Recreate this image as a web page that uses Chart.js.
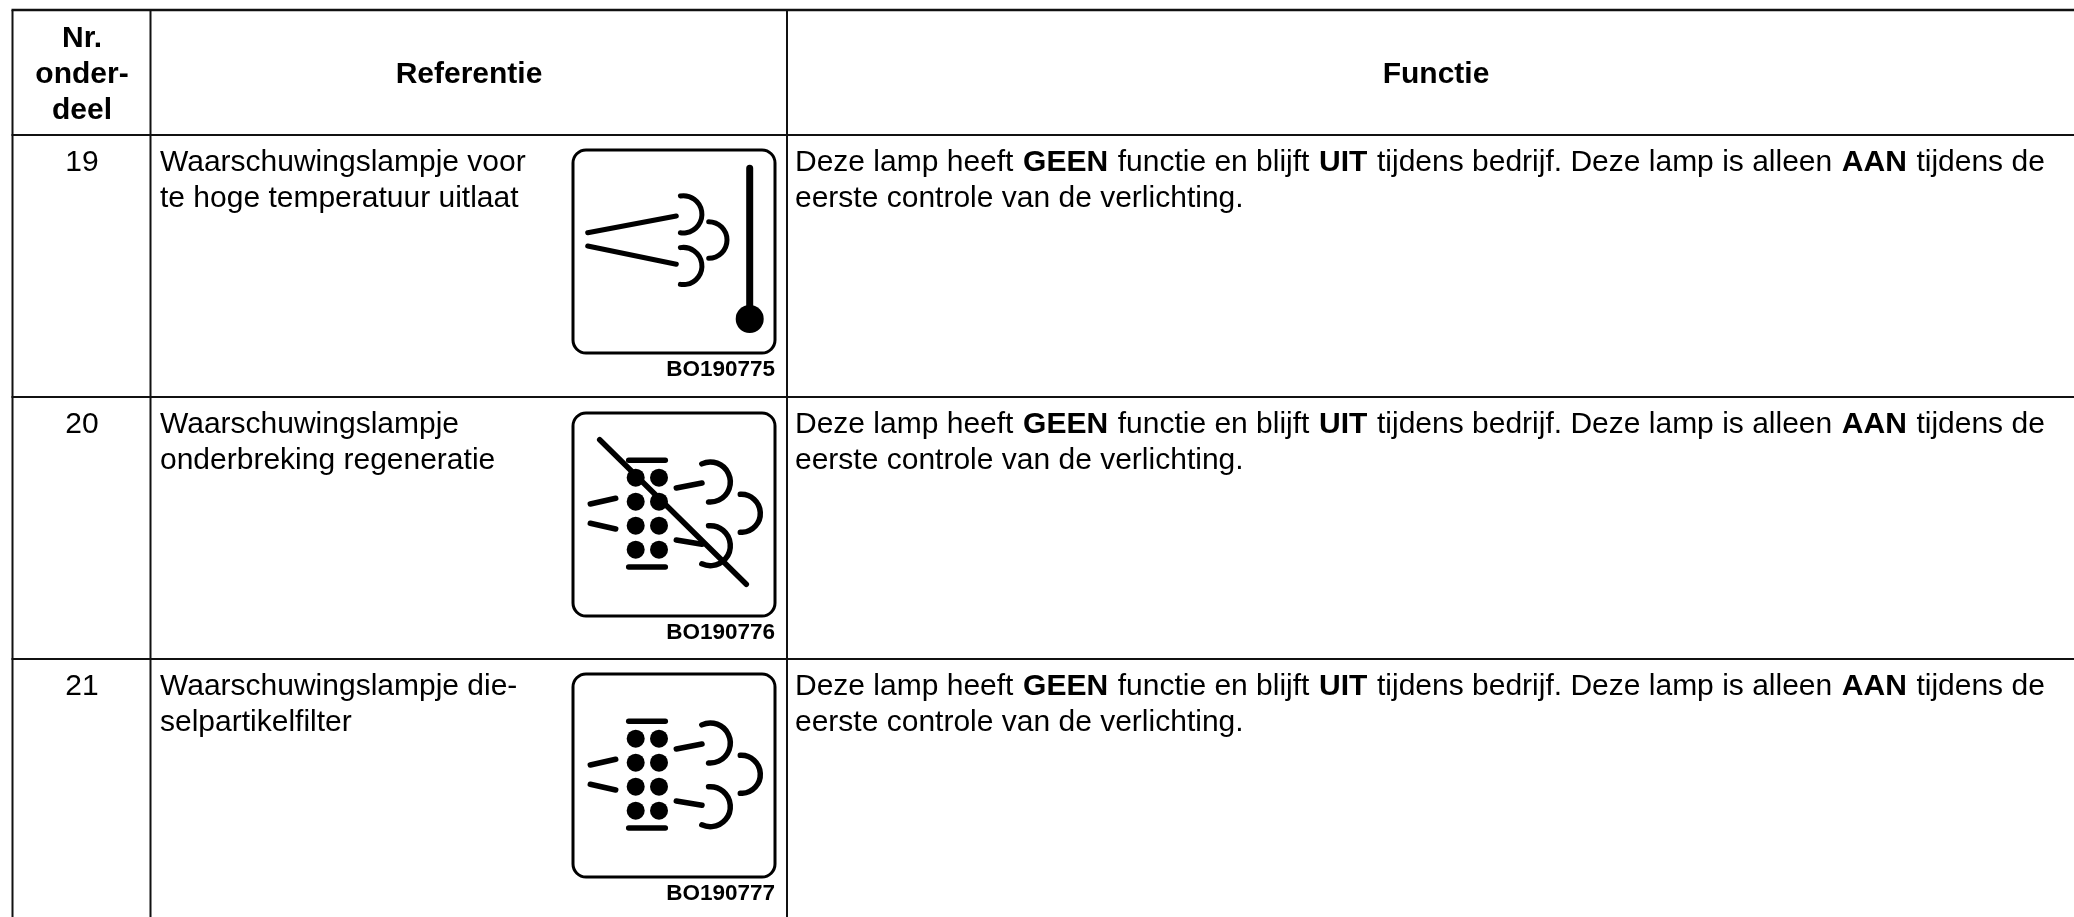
<!DOCTYPE html>
<html lang="nl">
<head>
    <meta charset="UTF-8">
    <title>Waarschuwingslampjes</title>
    <script src="https://cdn.jsdelivr.net/npm/chart.js"></script>
    <style>
        html, body { margin: 0; padding: 0; background: #fff; }
        canvas { display: block; }
    </style>
</head>
<body>
<canvas id="tableChart" width="2074" height="917"></canvas>

<script>
    // Table content
    const headerPart = ['Nr.', 'onder-', 'deel'];
    const headerReference = 'Referentie';
    const headerFunction = 'Functie';
    const partNumbers = ['19', '20', '21'];
    const references = [
        ['Waarschuwingslampje voor', 'te hoge temperatuur uitlaat'],
        ['Waarschuwingslampje', 'onderbreking regeneratie'],
        ['Waarschuwingslampje die-', 'selpartikelfilter']
    ];
    const imageCodes = ['BO190775', 'BO190776', 'BO190777'];
    const iconKinds = ['temperature', 'filterOff', 'filter'];
    // [text, bold]
    const functionLine1 = [
        ['Deze lamp heeft', false], ['GEEN', true], ['functie en blijft', false], ['UIT', true],
        ['tijdens bedrijf. Deze lamp is alleen', false], ['AAN', true], ['tijdens de', false]
    ];
    const functionLine2 = 'eerste controle van de verlichting.';

    // Table rules, in page units
    const columnEdges = [12.5, 150.5, 787];
    const rowEdges = [10, 135, 397, 659];
    const pageWidth = 2074;
    const pageHeight = 917;
    const iconLeft = 573;
    const iconTops = [150, 413, 674];
    const iconSize = [202, 203];

    // Icon strokes relative to the top left of the icon: x1, y1, x2, y2, width
    const exhaustLines = [
        [14.7, 82.7, 103.3, 66, 5],
        [14.7, 96, 103.3, 114.3, 5],
        [176.7, 18.3, 176.7, 166.7, 7]
    ];
    const filterLines = [
        [55.7, 47.3, 92.3, 47.3, 5.5],
        [55.7, 154, 92.3, 154, 5.5],
        [17.3, 91, 42.7, 85.3, 5.5],
        [17.3, 110.3, 42.7, 116, 5.5],
        [103.3, 75, 129, 70, 5.5],
        [103.3, 127, 129, 131.3, 5.5]
    ];
    const crossLines = [[26.7, 26.7, 173.3, 171.3, 5.5]];
    // cx, cy, r, start degrees, end degrees
    const exhaustArcs = [
        [110.3, 64.3, 18.6, -99, 99],
        [110.3, 116, 18.6, -99, 99],
        [135.7, 90, 18.3, -90, 90]
    ];
    const filterArcs = [
        [137.3, 69, 20, -115, 95],
        [168.3, 100.3, 19, -93, 93],
        [137.3, 132.7, 20, -95, 115]
    ];
    // cx, cy, r
    const exhaustDots = [[176.7, 169, 14]];
    const filterDotsX = [62.7, 86];
    const filterDotsY = [64.7, 88.7, 112.7, 136.7];
    const filterDotRadius = 9;

    const iconShapes = {
        temperature: { lines: exhaustLines, arcs: exhaustArcs, dots: exhaustDots, arcWidth: 5 },
        filter: {
            lines: filterLines,
            arcs: filterArcs,
            dots: filterDotsX.flatMap(x => filterDotsY.map(y => [x, y, filterDotRadius])),
            arcWidth: 5.5
        }
    };
    iconShapes.filterOff = { ...iconShapes.filter, lines: filterLines.concat(crossLines) };

    const FONT = '"Liberation Sans", Arial, sans-serif';
    const BODY_SIZE = 30;
    const LINE_HEIGHT = 36;

    function ruleDataset(x1, y1, x2, y2, width) {
        return {
            data: [{ x: x1, y: y1 }, { x: x2, y: y2 }],
            showLine: true,
            borderColor: '#111',
            borderWidth: width,
            borderCapStyle: 'butt',
            pointRadius: 0
        };
    }

    function strokeDataset(x1, y1, x2, y2, width) {
        return { ...ruleDataset(x1, y1, x2, y2, width), borderColor: '#000', borderCapStyle: 'round' };
    }

    const datasets = [];
    rowEdges.forEach((y, i) => datasets.push(ruleDataset(columnEdges[0] - 1, y, pageWidth, y, i === 0 ? 2.5 : 2)));
    columnEdges.forEach(x => datasets.push(ruleDataset(x, rowEdges[0], x, pageHeight, 2)));
    iconKinds.forEach((kind, row) => {
        const shape = iconShapes[kind];
        const top = iconTops[row];
        shape.lines.forEach(l => datasets.push(
            strokeDataset(iconLeft + l[0], top + l[1], iconLeft + l[2], top + l[3], l[4])));
        datasets.push({
            data: shape.dots.map(d => ({ x: iconLeft + d[0], y: top + d[1] })),
            pointRadius: shape.dots.map(d => d[2]),
            pointBackgroundColor: '#000',
            pointBorderWidth: 0,
            showLine: false
        });
    });

    // Text, icon frames and the curved exhaust strokes go through the scales too
    const tablePlugin = {
        id: 'tablePlugin',
        afterDatasetsDraw(chart) {
            const { ctx, scales: { x: sx, y: sy } } = chart;
            const px = v => sx.getPixelForValue(v);
            const py = v => sy.getPixelForValue(v);

            function label(text, x, y, size, bold, align) {
                ctx.font = (bold ? 'bold ' : '') + size + 'px ' + FONT;
                ctx.textAlign = align || 'left';
                ctx.textBaseline = 'alphabetic';
                ctx.fillStyle = '#000';
                ctx.fillText(text, px(x), py(y));
            }

            ctx.save();
            headerPart.forEach((t, i) => label(t, 82, 46.5 + i * LINE_HEIGHT, BODY_SIZE, true, 'center'));
            label(headerReference, 469, 82.5, BODY_SIZE, true, 'center');
            label(headerFunction, 1436, 82.5, BODY_SIZE, true, 'center');

            rowEdges.slice(1).forEach((top, row) => {
                const base = top + LINE_HEIGHT;
                label(partNumbers[row], 82, base, BODY_SIZE, false, 'center');
                references[row].forEach((t, i) => label(t, 160, base + i * LINE_HEIGHT, BODY_SIZE));

                let x = 795;
                functionLine1.forEach(([t, bold]) => {
                    label(t, x, base, BODY_SIZE, bold);
                    x += ctx.measureText(t).width + BODY_SIZE * 0.32;
                });
                label(functionLine2, 795, base + LINE_HEIGHT, BODY_SIZE);

                const top0 = iconTops[row];
                label(imageCodes[row], iconLeft + iconSize[0], top0 + iconSize[1] + 23, 22.5, true, 'right');

                ctx.strokeStyle = '#000';
                ctx.lineWidth = 3;
                ctx.beginPath();
                ctx.roundRect(px(iconLeft), py(top0), iconSize[0], iconSize[1], 13);
                ctx.stroke();

                ctx.lineCap = 'round';
                ctx.lineWidth = iconShapes[iconKinds[row]].arcWidth;
                iconShapes[iconKinds[row]].arcs.forEach(a => {
                    ctx.beginPath();
                    ctx.arc(px(iconLeft + a[0]), py(top0 + a[1]), a[2], a[3] * Math.PI / 180, a[4] * Math.PI / 180);
                    ctx.stroke();
                });
            });
            ctx.restore();
        }
    };

    new Chart(document.getElementById('tableChart'), {
        type: 'scatter',
        data: { datasets },
        plugins: [tablePlugin],
        options: {
            responsive: false,
            animation: false,
            layout: { padding: 0, autoPadding: false },
            plugins: { legend: { display: false }, tooltip: { enabled: false } },
            scales: {
                x: { type: 'linear', display: false, min: 0, max: pageWidth },
                y: { type: 'linear', display: false, min: 0, max: pageHeight, reverse: true }
            }
        }
    });
</script>

</body>
</html>
